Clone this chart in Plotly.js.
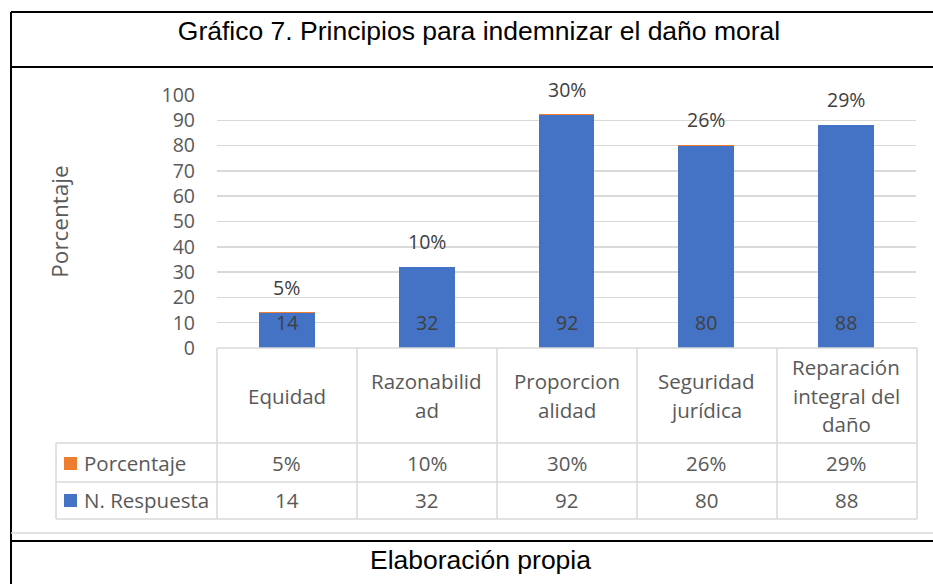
<!DOCTYPE html>
<html>
<head>
<meta charset="utf-8">
<script src="https://cdn.plot.ly/plotly-3.0.1.min.js"></script>
<style>html,body{margin:0;padding:0;background:#fff;}#chart{width:933px;height:584px;}</style>
</head>
<body>
<div id="chart"></div>
<script>
// ---- data ----
const categories = ["Equidad", "Razonabilidad", "Proporcionalidad", "Seguridad jurídica", "Reparación integral del daño"];
const categoryLines = [["Equidad"], ["Razonabilid", "ad"], ["Proporcion", "alidad"], ["Seguridad", "jurídica"], ["Reparación", "integral del", "daño"]];
const respuestas = [14, 32, 92, 80, 88];
const porcentajes = [0.05, 0.10, 0.30, 0.26, 0.29];
const seriesNames = ["N. Respuesta", "Porcentaje"];
const yTicks = [0, 10, 20, 30, 40, 50, 60, 70, 80, 90, 100];
const titleText = "Gráfico 7. Principios para indemnizar el daño moral";
const footText = "Elaboración propia";
const yTitle = "Porcentaje";

// ---- layout geometry ----
const W = 933, Hh = 584;
const L = 217, R = 17, T = 95, B = 236;
const PW = W - L - R, PH = Hh - T - B;
const X = px => (px - L) / PW;
const Y = py => (T + PH - py) / PH;
const blue = "#4472C4", orange = "#ED7D31";
const grey = "#595959", dark = "#404040", lineGrey = "#D9D9D9";
const xlFont = "'Open Sans', Lato, sans-serif";
const arial = "'Liberation Sans', Arial, sans-serif";
const fs = 19.5;
const fsTable = 20.5;

const pctText = porcentajes.map(p => Math.round(p * 100) + "%");

const traces = [
  {type: "bar", name: seriesNames[0], x: categories, y: respuestas, marker: {color: blue}, width: 0.4, showlegend: false, hoverinfo: "x+y"},
  {type: "bar", name: seriesNames[1], x: categories, y: porcentajes, marker: {color: orange}, width: 0.4, showlegend: false, hoverinfo: "x+y"}
];

const shapes = [];
const annotations = [];
const line = (x0, y0, x1, y1, color, w) => shapes.push({type: "line", xref: "paper", yref: "paper", x0: X(x0), y0: Y(y0), x1: X(x1), y1: Y(y1), line: {color: color, width: w}, layer: "above"});

// outer frame
line(11, 12, 11, 584, "#000", 2);
line(11, 12, 933, 12, "#000", 2);
line(11, 67, 933, 67, "#000", 2);
line(11, 541, 933, 541, "#000", 2);
// chart area border
line(11, 533, 933, 533, lineGrey, 1.5);
// data table grid
line(217, 348, 917, 348, lineGrey, 1.5);
[443, 482, 519].forEach(py => line(56, py, 917, py, lineGrey, 1.5));
line(56, 443, 56, 519, lineGrey, 1.5);
[217, 357, 497, 637, 777, 917].forEach(px => line(px, 348, px, 519, lineGrey, 1.5));

// legend keys
shapes.push({type: "rect", xref: "paper", yref: "paper", x0: X(64), x1: X(77), y0: Y(470), y1: Y(457), fillcolor: orange, line: {width: 0}});
shapes.push({type: "rect", xref: "paper", yref: "paper", x0: X(64), x1: X(77), y0: Y(507), y1: Y(494), fillcolor: blue, line: {width: 0}});
annotations.push({xref: "paper", yref: "paper", x: X(82), y: Y(463), xanchor: "left", yanchor: "middle", text: seriesNames[1], showarrow: false, font: {family: xlFont, size: fsTable, color: grey}});
annotations.push({xref: "paper", yref: "paper", x: X(82), y: Y(500), xanchor: "left", yanchor: "middle", text: seriesNames[0], showarrow: false, font: {family: xlFont, size: fsTable, color: grey}});

categories.forEach((c, i) => {
  // data labels
  annotations.push({x: c, y: 0, xref: "x", yref: "y", yshift: 26, yanchor: "middle", text: String(respuestas[i]), showarrow: false, font: {family: xlFont, size: fs, color: dark}});
  annotations.push({x: c, y: respuestas[i] + porcentajes[i], xref: "x", yref: "y", yshift: 25, yanchor: "middle", text: pctText[i], showarrow: false, font: {family: xlFont, size: fs, color: dark}});
  // category labels in table header
  const lines = categoryLines[i];
  const n = lines.length;
  lines.forEach((t, k) => {
    const cy = 395.5 + (k - (n - 1) / 2) * 28.5;
    annotations.push({x: c, xref: "x", yref: "paper", y: Y(cy), yanchor: "middle", text: t, showarrow: false, font: {family: xlFont, size: fsTable, color: grey}});
  });
  // table rows
  annotations.push({x: c, xref: "x", yref: "paper", y: Y(463), yanchor: "middle", text: pctText[i], showarrow: false, font: {family: xlFont, size: fsTable, color: grey}});
  annotations.push({x: c, xref: "x", yref: "paper", y: Y(500), yanchor: "middle", text: String(respuestas[i]), showarrow: false, font: {family: xlFont, size: fsTable, color: grey}});
});

// footer
annotations.push({xref: "paper", yref: "paper", x: X(480), y: Y(560), xanchor: "center", yanchor: "middle", text: footText, showarrow: false, font: {family: arial, size: 26.5, color: "#000"}});

const layout = {
  width: W, height: Hh,
  margin: {l: L, r: R, t: T, b: B, pad: 0},
  paper_bgcolor: "#fff", plot_bgcolor: "#fff",
  barmode: "stack",
  showlegend: false,
  title: {text: titleText, x: 479 / W, xanchor: "center", y: 1 - 31 / Hh, yanchor: "middle", yref: "container", font: {family: arial, size: 26.5, color: "#000"}},
  xaxis: {type: "category", showticklabels: false, ticks: "", showgrid: false, zeroline: false, showline: false, fixedrange: true},
  yaxis: {range: [0, 100], tickvals: yTicks, ticktext: yTicks.map(String), showgrid: true, gridcolor: lineGrey, gridwidth: 1.5, zeroline: false, showline: false, ticks: "", ticklabelstandoff: 21,
          tickfont: {family: xlFont, size: fs, color: grey},
          title: {text: yTitle, standoff: 86, font: {family: xlFont, size: 22.5, color: grey}}, automargin: false, fixedrange: true},
  shapes: shapes,
  annotations: annotations
};

Plotly.newPlot("chart", traces, layout, {displayModeBar: false, staticPlot: true});
</script>
</body>
</html>
